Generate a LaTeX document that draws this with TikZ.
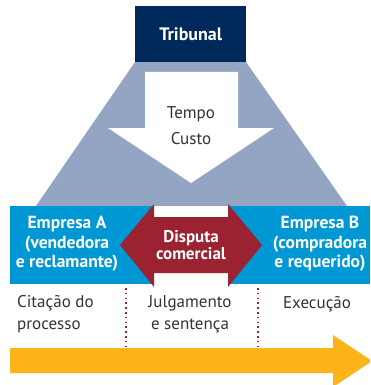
\documentclass[tikz,border=0pt]{standalone}
\usepackage{fontspec}
\setmainfont{PT Sans}
\usepackage{tikz}
\usetikzlibrary{positioning}

\definecolor{navy}{RGB}{0,41,91}
\definecolor{trapgray}{RGB}{148,165,196}
\definecolor{bandblue}{RGB}{0,152,212}
\definecolor{disputered}{RGB}{155,34,48}
\definecolor{timeorange}{RGB}{252,180,25}
\definecolor{txtgray}{RGB}{51,51,51}

\begin{document}
\begin{tikzpicture}[x=1pt,y=-1pt,
    headtxt/.style={text=white,font=\fontsize{17.5}{19.5}\selectfont\bfseries,align=center,inner sep=0pt},
    steptxt/.style={text=txtgray,font=\fontsize{17}{22}\selectfont,inner sep=0pt},
    phase/.style={disputered,line width=1.6pt,dash pattern=on 1.6pt off 3.2pt}]
  \useasboundingbox (0,0) rectangle (370,385);
  \clip (0,0) rectangle (370,385);
  % tribunal e cone
  \fill[trapgray] (135,62) -- (246,62) -- (347,206) -- (36,206) -- cycle;
  \node[fill=navy,minimum width=111pt,minimum height=56pt,inner sep=0pt,anchor=north west,
        headtxt,font=\fontsize{18}{20}\selectfont\bfseries] (trib) at (135,6) {Tribunal};
  \fill[white] (145,72) -- (238,72) -- (238,128) -- (274,128) -- (191,183)
               -- (108,128) -- (145,128) -- cycle;
  \node[steptxt,align=center,font=\fontsize{17}{26}\selectfont] (custo) at (191,126) {Tempo\\Custo};
  % faixa das empresas
  \fill[bandblue] (10,206) rectangle (370,284);
  \fill[white] (154,206) rectangle (228,284);
  \fill[disputered] (120,245) -- (154,204) -- (154,217) -- (228,217) -- (228,204)
                    -- (262,245) -- (228,287) -- (228,273) -- (154,273) -- (154,287) -- cycle;
  \node[headtxt] (empA) at (67,244) {Empresa A\\(vendedora\\e reclamante)};
  \node[headtxt] (empB) at (320,244) {Empresa B\\(compradora\\e requerido)};
  \node[headtxt,font=\fontsize{17}{17.5}\selectfont\bfseries] (disp) at (191,245) {Disputa\\comercial};
  % fases
  \node[steptxt,align=left,anchor=west] (cit) at (17,314) {Citação do\\processo};
  \node[steptxt,align=center] (julg) at (190,314) {Julgamento\\e sentença};
  \node[steptxt,anchor=north] (exec) at (317,296) {Execução};
  \foreach \x/\nm in {126/a,258/b} {
    \coordinate (top\nm) at (\x,288);
    \coordinate (bot\nm) at (\x,346);
    \draw[phase] (top\nm) -- (bot\nm);
  }
  \fill[timeorange] (10,348) -- (333,348) -- (333,335) -- (372,361) -- (333,387)
                    -- (333,373) -- (10,373) -- cycle;
\end{tikzpicture}
\end{document}
